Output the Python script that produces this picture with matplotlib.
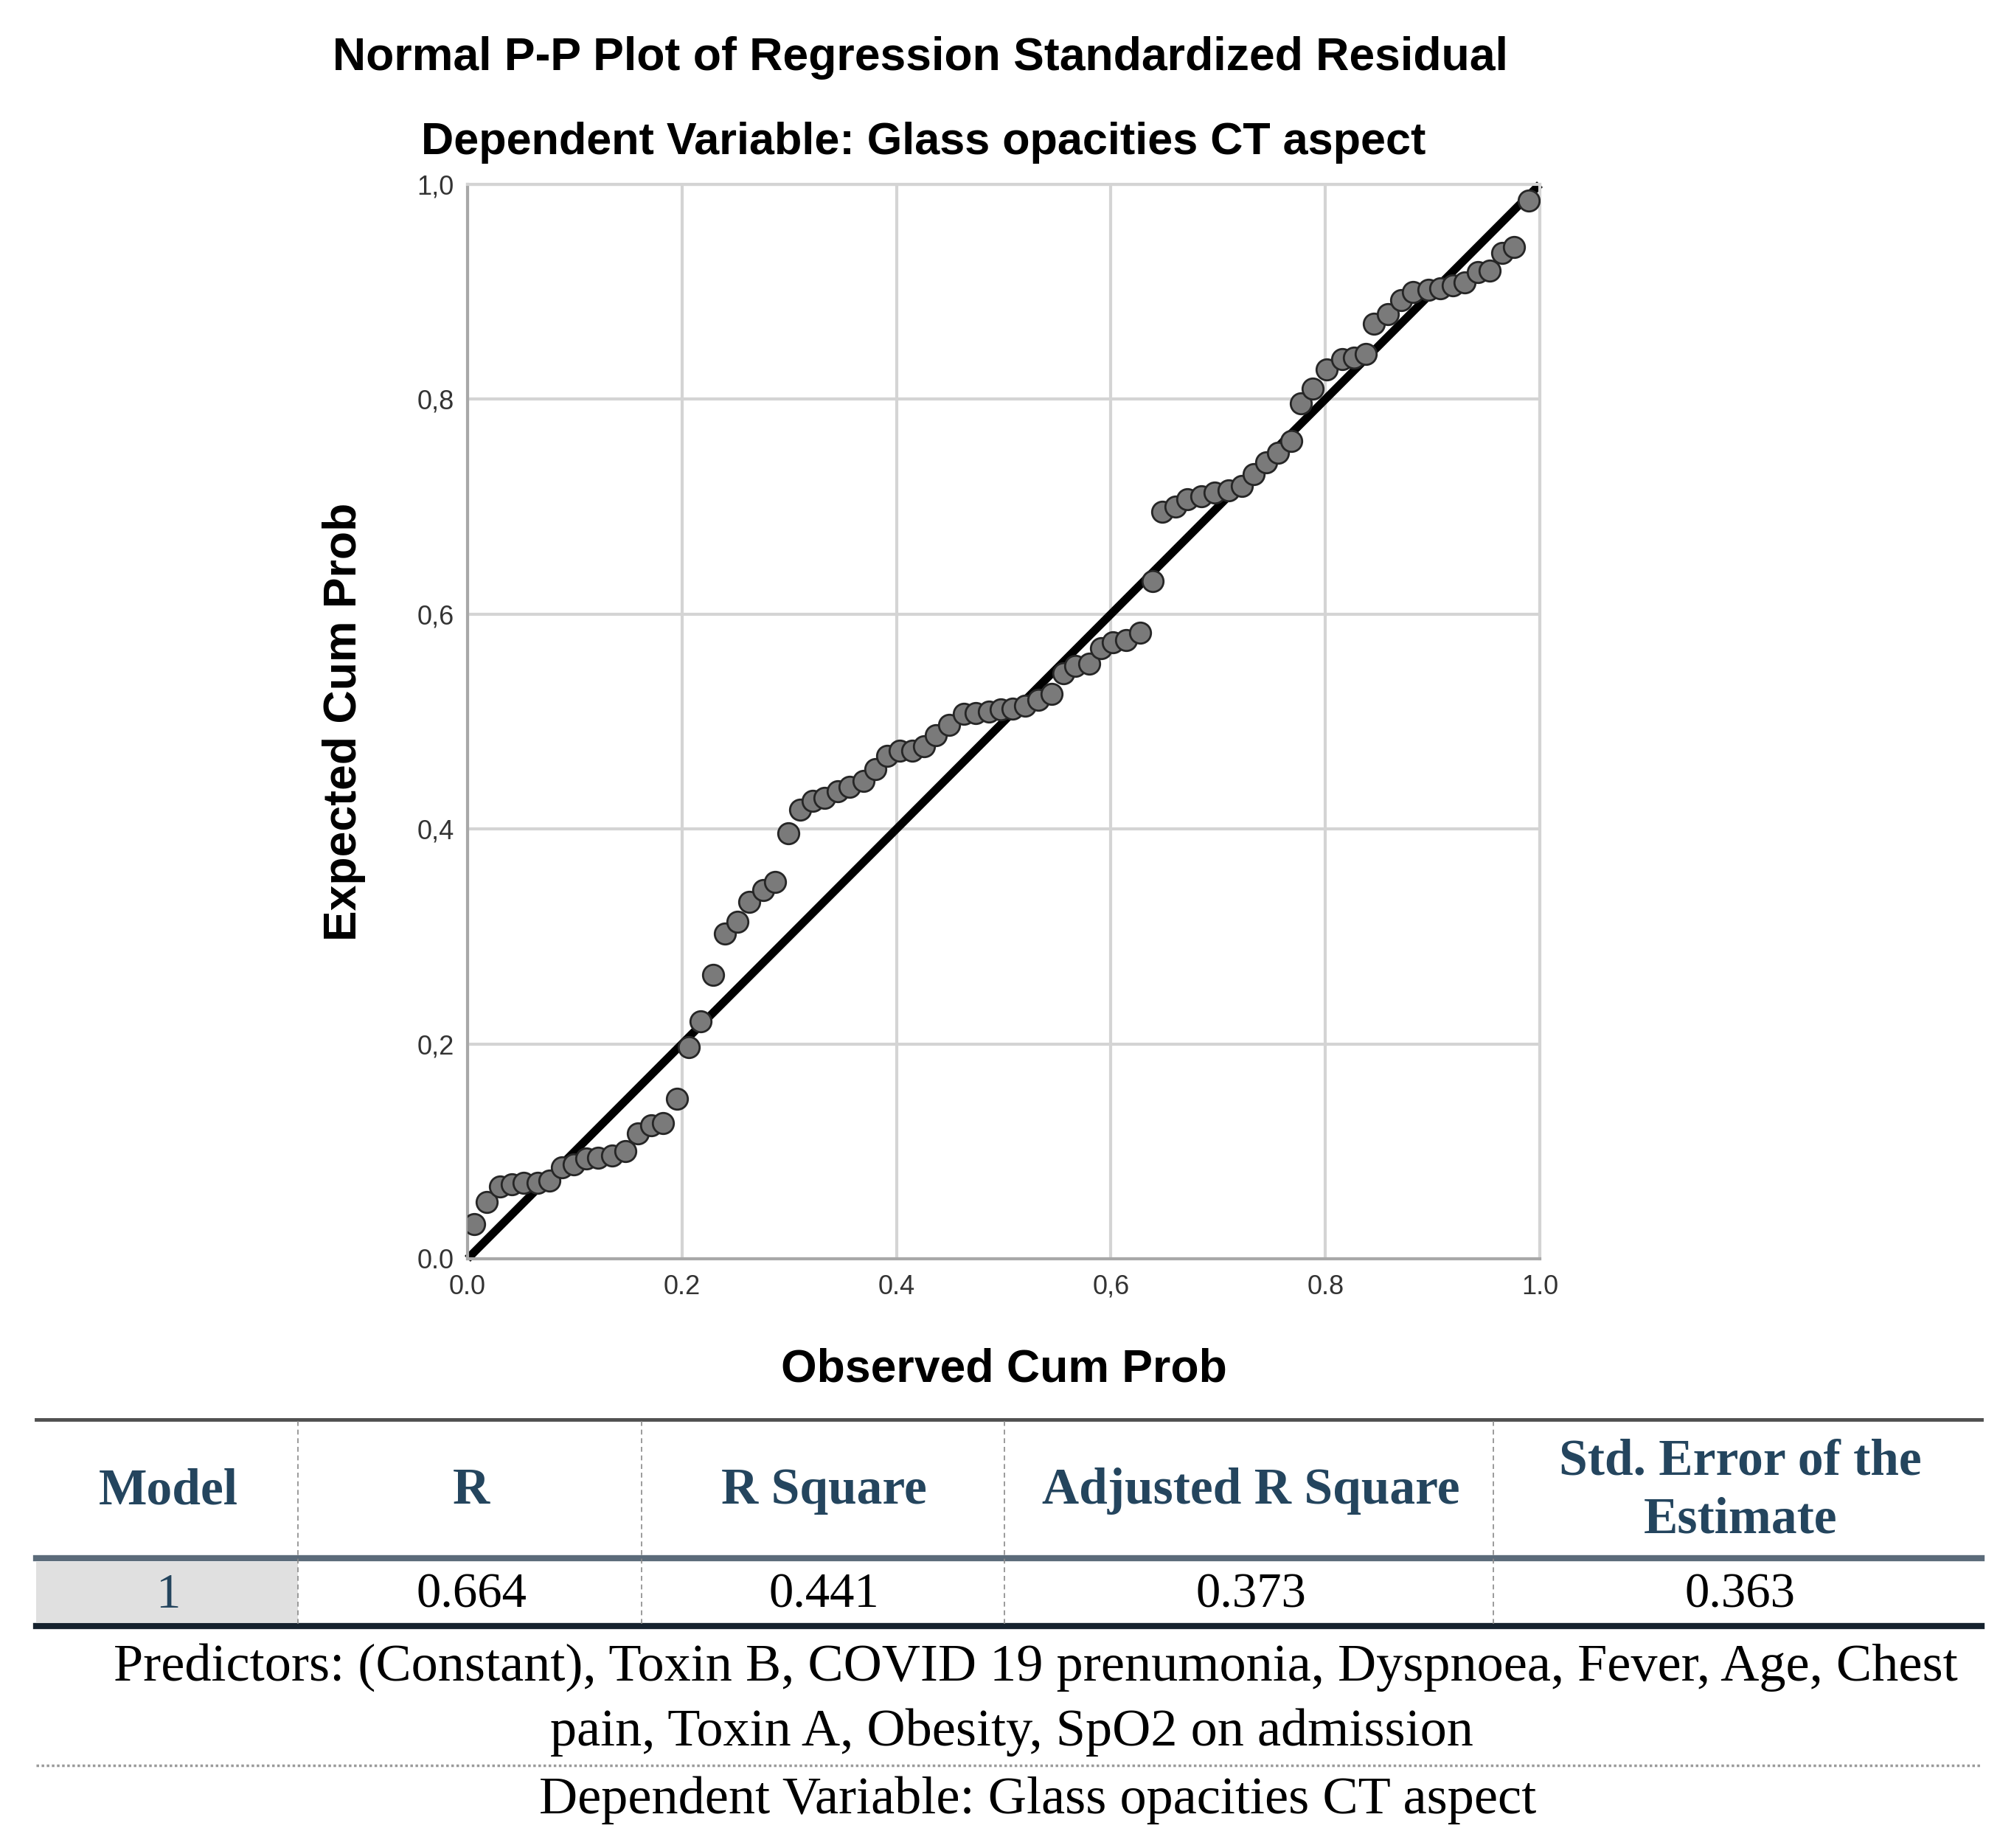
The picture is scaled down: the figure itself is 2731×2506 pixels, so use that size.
import numpy as np
import matplotlib.pyplot as plt
from matplotlib.patches import Rectangle

# P-P plot points
obs_cum = [0.006, 0.018, 0.030, 0.041, 0.052, 0.065, 0.076, 0.088, 0.099, 0.111,
           0.122, 0.135, 0.147, 0.159, 0.171, 0.182, 0.195, 0.206, 0.217, 0.229,
           0.240, 0.252, 0.263, 0.276, 0.287, 0.299, 0.310, 0.322, 0.333, 0.345,
           0.356, 0.369, 0.380, 0.391, 0.403, 0.415, 0.426, 0.437, 0.449, 0.463,
           0.474, 0.486, 0.497, 0.508, 0.520, 0.532, 0.545, 0.556, 0.567, 0.580,
           0.591, 0.602, 0.614, 0.627, 0.639, 0.648, 0.660, 0.671, 0.684, 0.697,
           0.710, 0.722, 0.733, 0.745, 0.756, 0.768, 0.777, 0.788, 0.801, 0.816,
           0.827, 0.838, 0.845, 0.858, 0.871, 0.882, 0.896, 0.907, 0.919, 0.930,
           0.942, 0.953, 0.965, 0.976, 0.990]
exp_cum = [0.032, 0.053, 0.067, 0.069, 0.071, 0.071, 0.073, 0.085, 0.088, 0.093,
           0.094, 0.096, 0.100, 0.117, 0.124, 0.126, 0.149, 0.197, 0.221, 0.264,
           0.303, 0.314, 0.332, 0.343, 0.351, 0.396, 0.418, 0.426, 0.429, 0.435,
           0.439, 0.445, 0.456, 0.468, 0.473, 0.473, 0.477, 0.487, 0.497, 0.507,
           0.508, 0.509, 0.511, 0.512, 0.515, 0.520, 0.526, 0.545, 0.552, 0.554,
           0.568, 0.574, 0.576, 0.583, 0.631, 0.695, 0.700, 0.707, 0.710, 0.713,
           0.715, 0.719, 0.730, 0.741, 0.750, 0.761, 0.796, 0.810, 0.828, 0.837,
           0.839, 0.842, 0.870, 0.879, 0.892, 0.900, 0.902, 0.903, 0.906, 0.909,
           0.918, 0.920, 0.936, 0.942, 0.985]

ticks = [0.0, 0.2, 0.4, 0.6, 0.8, 1.0]
x_tick_labels = ["0.0", "0.2", "0.4", "0,6", "0.8", "1.0"]
y_tick_labels = ["0.0", "0,2", "0,4", "0,6", "0,8", "1,0"]

# model summary table
headers = ["Model", "R", "R Square", "Adjusted R Square", "Std. Error of the\nEstimate"]
row_values = ["1", "0.664", "0.441", "0.373", "0.363"]
note_predictors = ["Predictors: (Constant), Toxin B, COVID 19 prenumonia, Dyspnoea, Fever, Age, Chest",
                   "pain, Toxin A, Obesity, SpO2 on admission"]
note_dependent = "Dependent Variable: Glass opacities CT aspect"

W, H = 2731, 2506
fig = plt.figure(figsize=(W / 100, H / 100), dpi=100)

# overlay in pixel coords for titles and table
tax = fig.add_axes([0, 0, 1, 1])
tax.set_xlim(0, W)
tax.set_ylim(H, 0)
tax.axis('off')
tax.patch.set_alpha(0)

sans = 'Liberation Sans'
serif = 'Liberation Serif'
navy = '#24455e'

tax.text(1248, 79, "Normal P-P Plot of Regression Standardized Residual", ha='center', va='center',
         fontsize=45, fontweight='bold', family=sans)
tax.text(1252, 193, "Dependent Variable: Glass opacities CT aspect", ha='center', va='center',
         fontsize=44, fontweight='bold', family=sans)

# main plot
ax = fig.add_axes([634 / W, 1 - 1707 / H, (2088 - 634) / W, (1707 - 250) / H])
ax.set_xlim(0, 1)
ax.set_ylim(0, 1)
ax.grid(True, color='#d4d4d4', lw=3)
ax.set_axisbelow(True)
for s in ax.spines.values():
    s.set_color('#d4d4d4')
    s.set_linewidth(3)
ax.spines['left'].set_color('#a8a8a8')
ax.spines['bottom'].set_color('#a8a8a8')
ax.plot([0, 1], [0, 1], color='black', lw=8, zorder=2, clip_on=False, solid_capstyle='butt')
ax.scatter(obs_cum, exp_cum, s=420, facecolor='#7a7a7a', edgecolor='#262626', linewidth=2, zorder=3)
ax.set_xticks(ticks)
ax.set_xticklabels(x_tick_labels)
ax.set_yticks(ticks)
ax.set_yticklabels(y_tick_labels)
ax.tick_params(length=0, labelsize=26, labelcolor='#333333')
ax.tick_params(axis='x', pad=15)
ax.tick_params(axis='y', pad=13)
for lab in ax.get_xticklabels() + ax.get_yticklabels():
    lab.set_family(sans)
ax.set_xlabel("Observed Cum Prob", fontsize=45, fontweight='bold', family=sans, va='center')
ax.set_ylabel("Expected Cum Prob", fontsize=45, fontweight='bold', family=sans, va='center')
ax.xaxis.set_label_coords(0.5, -0.103)
ax.yaxis.set_label_coords(-0.1155, 0.5)

# table
left, right = 49, 2687
col_edges = [404, 870, 1362, 2025]
col_centers = [228, 639, 1117, 1696, 2360]
tax.add_patch(Rectangle((left, 2118), col_edges[0] - left, 82, color='#e0e0e0', lw=0))
tax.plot([left, right], [1925, 1925], color='#505050', lw=3.5)
tax.plot([left, right], [2113, 2113], color='#5b6b7a', lw=6)
tax.plot([left, right], [2205, 2205], color='#16222e', lw=6)
tax.plot([left, right], [2394, 2394], color='#9a9a9a', lw=2.5, ls=(0, (1, 1)))
for xe in col_edges:
    tax.plot([xe, xe], [1927, 2203], color='#8a8a8a', lw=1.2, ls=(0, (4, 3)))

for xc, h in zip(col_centers, headers):
    tax.text(xc, 2022, h, ha='center', va='center', fontsize=50, fontweight='bold',
             family=serif, color=navy, linespacing=1.3)
for i, (xc, v) in enumerate(zip(col_centers, row_values)):
    tax.text(xc, 2163, v, ha='center', va='center', fontsize=48, family=serif,
             color=navy if i == 0 else 'black')

tax.text(1404, 2261, note_predictors[0], ha='center', va='center', fontsize=52, family=serif)
tax.text(1372, 2349, note_predictors[1], ha='center', va='center', fontsize=52, family=serif)
tax.text(1407, 2441, note_dependent, ha='center', va='center', fontsize=52, family=serif)

fig.savefig('out.png', dpi=100, facecolor='white')
